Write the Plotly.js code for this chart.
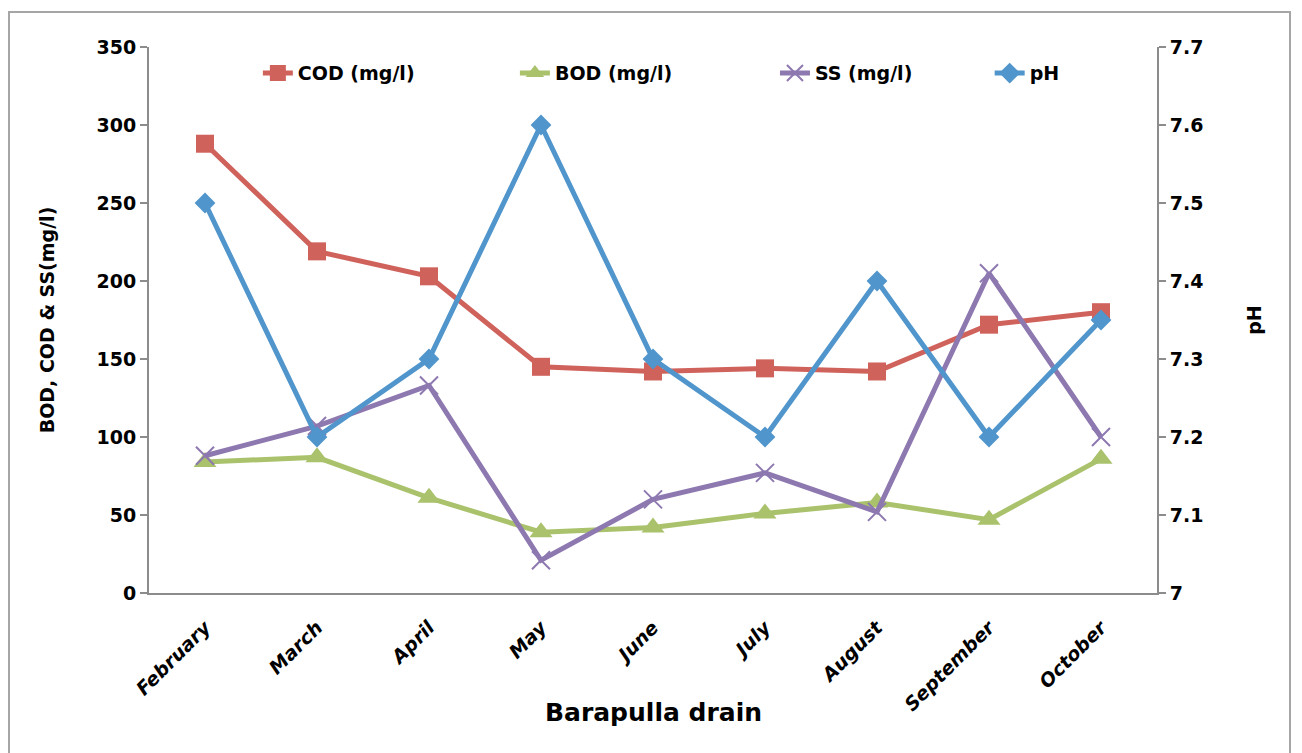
<!DOCTYPE html>
<html>
<head>
<meta charset="utf-8">
<script src="https://cdn.plot.ly/plotly-3.0.1.min.js"></script>
<style>
html,body{margin:0;padding:0;background:#fff;}
#frame{position:absolute;left:8px;top:11px;width:1283px;height:745px;border:2px solid #a6a6a6;box-sizing:border-box;}
#chart{position:absolute;left:0;top:0;width:1302px;height:753px;}
</style>
</head>
<body>
<div id="frame"></div>
<div id="chart"></div>
<script>
const months = ["February","March","April","May","June","July","August","September","October"];
const cod = [288, 219, 203, 145, 142, 144, 142, 172, 180];
const bod = [84, 87, 61, 39, 42, 51, 58, 47, 86];
const ss  = [88, 107, 133, 21, 60, 77, 52, 205, 100];
const ph  = [7.5, 7.2, 7.3, 7.6, 7.3, 7.2, 7.4, 7.2, 7.35];
const xTitle = "Barapulla drain";

const FONT = "'DejaVu Sans', sans-serif";
const mk = (name, y, color, symbol, size, axis, leg) => ({
  x: months, y: y, name: name, type: "scatter", mode: "lines+markers",
  yaxis: axis, legend: leg,
  line: {color: color, width: 5},
  marker: {symbol: symbol, size: size, color: color, line: {color: color, width: symbol === "x-thin" ? 2 : 0}}
});

const traces = [
  mk("COD (mg/l)", cod, "#D0625C", "square", 18, "y", "legend"),
  mk("BOD (mg/l)", bod, "#A9C26B", "triangle-up", 20, "y", "legend2"),
  mk("SS (mg/l)", ss, "#8D78B0", "x-thin", 18, "y", "legend3"),
  mk("pH", ph, "#5095CB", "diamond", 16, "y2", "legend4")
];

const legBase = (x) => ({
  orientation: "h", x: x, y: 0.952, xanchor: "left", yanchor: "middle",
  font: {family: FONT, size: 19, color: "#000", weight: "bold"},
  bgcolor: "rgba(0,0,0,0)", itemwidth: 30
});

const layout = {
  width: 1302, height: 753,
  paper_bgcolor: "rgba(0,0,0,0)", plot_bgcolor: "rgba(0,0,0,0)",
  margin: {l: 149, r: 145, t: 47, b: 160},
  font: {family: FONT, color: "#000", size: 19},
  showlegend: true,
  legend: legBase(0.108),
  legend2: legBase(0.363),
  legend3: legBase(0.621),
  legend4: legBase(0.834),
  xaxis: {
    type: "category", range: [-0.5, 8.5],
    showline: true, linecolor: "#8c8c8c", linewidth: 2,
    ticks: "", showgrid: false, zeroline: false,
    tickangle: -45, ticklabelstandoff: 14,
    tickfont: {family: FONT, size: 19, weight: "bold", style: "italic"}
  },
  yaxis: {
    range: [0, 350], dtick: 50, tick0: 0,
    showline: true, linecolor: "#8c8c8c", linewidth: 2,
    ticks: "outside", ticklen: 7, tickcolor: "#8c8c8c", tickwidth: 2,
    showgrid: false, zeroline: false,
    tickfont: {family: FONT, size: 19, weight: "bold"},
    title: {text: "BOD, COD & SS(mg/l)", font: {family: FONT, size: 19, weight: "bold"}, standoff: 37}
  },
  yaxis2: {
    range: [7, 7.7], dtick: 0.1, tick0: 7,
    overlaying: "y", side: "right",
    showline: true, linecolor: "#8c8c8c", linewidth: 2,
    ticks: "outside", ticklen: 7, tickcolor: "#8c8c8c", tickwidth: 2,
    showgrid: false, zeroline: false,
    tickfont: {family: FONT, size: 19, weight: "bold"},
    title: {text: "pH", font: {family: FONT, size: 19, weight: "bold"}, standoff: 45}
  },
  annotations: [{
    text: xTitle, xref: "paper", yref: "paper", x: 0.5, y: -0.218,
    xanchor: "center", yanchor: "middle", showarrow: false,
    font: {family: FONT, size: 25, weight: "bold", color: "#000"}
  }]
};

Plotly.newPlot("chart", traces, layout, {displayModeBar: false, staticPlot: true});
</script>
</body>
</html>
